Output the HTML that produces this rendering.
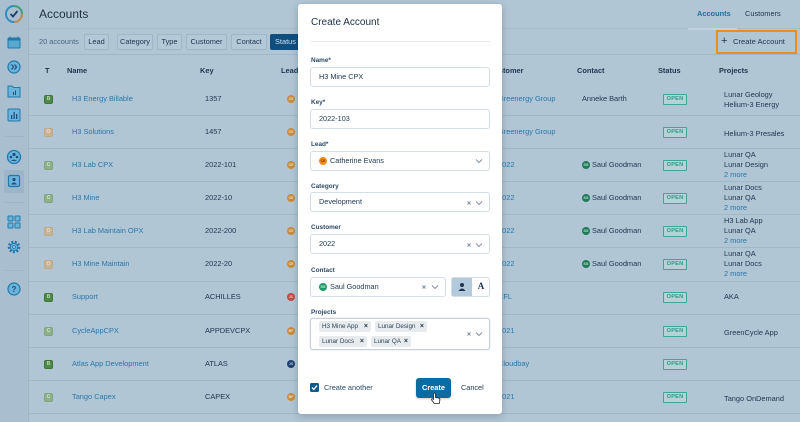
<!DOCTYPE html>
<html><head><meta charset="utf-8">
<style>
*{margin:0;padding:0;box-sizing:border-box}
html,body{width:800px;height:422px;overflow:hidden}
body{background:#b1c6d5;font-family:"Liberation Sans",Arial,sans-serif;position:relative;color:#1d3550}
.a{position:absolute;white-space:nowrap}
.t{position:absolute;white-space:nowrap;line-height:10px;font-size:7.4px}
.hl{position:absolute;height:1px;background:#a0b9ca}
.fb{position:absolute;top:34px;height:16px;border:1px solid #9db6c8;border-radius:2px;font-size:7.4px;line-height:14px;text-align:center;color:#1d3550;background:#b4c9d7}
.bold{font-weight:bold}
.lnk{color:#2a76a8}
.badge{position:absolute;left:44px;width:9px;height:9px;border-radius:2px;font-size:5px;line-height:9px;text-align:center;font-weight:bold}
.bB{background:#4e8a47;color:#b9d6b1;border:1px solid #3f7539;line-height:7px}
.bO{background:#c8b394;color:#e8decd;border:1px solid #bfa886;line-height:7px}
.bC{background:#8db18a;color:#d2e4cf;border:1px solid #80a57d;line-height:7px}
.av{position:absolute;width:8px;height:8px;border-radius:50%;font-size:3.5px;line-height:8px;text-align:center;color:#f0e0c0;font-weight:bold}
.open{position:absolute;left:663px;width:24px;height:11px;border:1px solid #3fa597;border-radius:1px;background:#b6d2d6;color:#2a9a87;font-size:5.6px;font-weight:bold;line-height:9px;text-align:center;letter-spacing:.2px}
.lbl{position:absolute;left:311px;font-size:6.4px;font-weight:bold;color:#2c4a66;line-height:8px}
.inp{position:absolute;left:310px;width:180px;height:20px;border:1px solid #d5dde5;border-radius:3px;background:#fff}
.it{position:absolute;font-size:7.3px;line-height:10px;color:#1d3550;white-space:nowrap}
.tag{position:absolute;height:11px;background:#e7ebee;border-radius:2px;font-size:6.3px;line-height:11px;color:#2c4358;padding-left:3px;white-space:nowrap}
.tag b{position:absolute;right:3px;top:0;font-size:7px;color:#1d3550}
</style></head><body>

<!-- sidebar -->
<div class="a" style="left:0;top:0;width:29px;height:422px;background:#a9bfcf;border-right:1px solid #9fb6c7"></div>
<div class="a" style="left:4px;top:136px;width:20px;height:1px;background:#9fb6c7"></div>
<div class="a" style="left:4px;top:202px;width:20px;height:1px;background:#9fb6c7"></div>
<div class="a" style="left:4px;top:270px;width:20px;height:1px;background:#9fb6c7"></div>
<div class="a" style="left:4px;top:170px;width:20px;height:23px;background:#9db5c8;border-radius:2px"></div>
<svg class="a" style="left:0;top:0" width="29" height="300" viewBox="0 0 29 300">
 <!-- logo -->
 <circle cx="14" cy="14" r="8" fill="none" stroke="#2b8fc0" stroke-width="2"/>
 <path d="M14 6 A8 8 0 0 1 22 14" fill="none" stroke="#4aa07a" stroke-width="2"/>
 <path d="M22 14 A8 8 0 0 1 14 22" fill="none" stroke="#c88c4a" stroke-width="2"/>
 <polyline points="10.5,14 13,16.5 17.5,11" fill="none" stroke="#1d3f6a" stroke-width="1.8"/>
 <!-- calendar -->
 <rect x="8" y="38" width="12" height="10" rx="1" fill="#5aa8d2" stroke="#1f79ad" stroke-width="1"/>
 <rect x="8" y="38" width="12" height="2.5" fill="#1f79ad"/>
 <line x1="10" y1="36.5" x2="10" y2="39" stroke="#1f79ad"/><line x1="18" y1="36.5" x2="18" y2="39" stroke="#1f79ad"/>
 <!-- chevrons -->
 <circle cx="14" cy="67" r="6" fill="#6cb3d9" stroke="#1f79ad" stroke-width="1.2"/>
 <polyline points="11.5,64.5 13.5,67 11.5,69.5" fill="none" stroke="#1d4f80" stroke-width="1.2"/>
 <polyline points="14.5,64.5 16.5,67 14.5,69.5" fill="none" stroke="#1d4f80" stroke-width="1.2"/>
 <!-- folder -->
 <path d="M8 86 h4 l1.5 1.5 h6.5 v9.5 h-12 z" fill="#6cb3d9" stroke="#1f79ad" stroke-width="1"/>
 <rect x="13" y="92" width="1" height="3" fill="#1d4f80"/><rect x="15" y="90.5" width="1" height="4.5" fill="#1d4f80"/>
 <!-- chart -->
 <rect x="8" y="109" width="12" height="12" rx="1" fill="#6cb3d9" stroke="#1f79ad" stroke-width="1"/>
 <rect x="11" y="115" width="1.3" height="4" fill="#1d4f80"/><rect x="13.5" y="112" width="1.3" height="7" fill="#1d4f80"/><rect x="16" y="114" width="1.3" height="5" fill="#1d4f80"/>
 <!-- users -->
 <circle cx="14" cy="157" r="6.5" fill="#6cb3d9" stroke="#1f79ad" stroke-width="1.3"/>
 <circle cx="14" cy="154.5" r="1.6" fill="#1d4f80"/><circle cx="11" cy="157" r="1.3" fill="#1d4f80"/><circle cx="17" cy="157" r="1.3" fill="#1d4f80"/>
 <path d="M11 161 q3 -3 6 0" fill="#1d4f80"/>
 <!-- contact -->
 <rect x="8.5" y="175.5" width="11" height="11" rx="1.5" fill="#6cb3d9" stroke="#1f79ad" stroke-width="1.2"/>
 <circle cx="14" cy="179.5" r="1.6" fill="#1d4f80"/><path d="M11 184.5 q3 -4 6 0 z" fill="#1d4f80"/>
 <!-- grid -->
 <rect x="8" y="216" width="5" height="5" rx=".5" fill="#6cb3d9" stroke="#1f79ad" stroke-width="1"/>
 <rect x="15" y="216" width="5" height="5" rx=".5" fill="#6cb3d9" stroke="#1f79ad" stroke-width="1"/>
 <rect x="8" y="223" width="5" height="5" rx=".5" fill="#6cb3d9" stroke="#1f79ad" stroke-width="1"/>
 <rect x="15" y="223" width="5" height="5" rx=".5" fill="#6cb3d9" stroke="#1f79ad" stroke-width="1"/>
 <!-- gear -->
 <circle cx="14" cy="247" r="5.2" fill="none" stroke="#1f79ad" stroke-width="2.2" stroke-dasharray="2 1.6"/>
 <circle cx="14" cy="247" r="3.8" fill="#6cb3d9" stroke="#1f79ad" stroke-width="1"/>
 <circle cx="14" cy="247" r="1.5" fill="#a9bfcf" stroke="#1f79ad" stroke-width=".8"/>
</svg>
<svg class="a" style="left:0;top:280" width="29" height="20" viewBox="0 280 29 20">
 <circle cx="14" cy="289" r="6" fill="#6cb3d9" stroke="#1f79ad" stroke-width="1.2"/>
 <text x="14" y="292" font-size="8" text-anchor="middle" fill="#1d4f80" font-family="Liberation Sans" font-weight="bold">?</text>
</svg>

<!-- header -->
<div class="a" style="left:39px;top:7px;font-size:12px;line-height:14px;color:#1d3045">Accounts</div>
<div class="t bold" style="left:697px;top:9px;color:#1b6fa3">Accounts</div>
<div class="t" style="left:745px;top:9px">Customers</div>
<div class="hl" style="left:29px;top:28px;width:771px;background:#a5bccc"></div>
<div class="a" style="left:688px;top:28px;width:49px;height:2px;background:#c1d3df"></div>

<div class="t" style="left:39px;top:37px;color:#4a6680">20 accounts</div>
<div class="fb" style="left:84px;width:25px">Lead</div>
<div class="fb" style="left:117px;width:36px">Category</div>
<div class="fb" style="left:157px;width:25px">Type</div>
<div class="fb" style="left:186px;width:41px">Customer</div>
<div class="fb" style="left:231px;width:36px">Contact</div>
<div class="fb" style="left:270px;width:36px;background:#0e4f80;border-color:#0e4f80;color:#cfe0ee;text-align:left;padding-left:4px">Status</div>

<div class="a" style="left:716px;top:30px;width:81px;height:24px;border:2px solid #f08c1a"></div>
<div class="a" style="left:721px;top:36px;font-size:11px;line-height:11px;color:#1d3550">+</div>
<div class="t" style="left:733px;top:37px;font-size:7.6px">Create Account</div>

<div class="hl" style="left:29px;top:54px;width:771px"></div>

<!-- table header -->
<div class="t bold" style="left:45px;top:66px">T</div>
<div class="t bold" style="left:67px;top:66px">Name</div>
<div class="t bold" style="left:200px;top:66px">Key</div>
<div class="t bold" style="left:281px;top:66px">Lead</div>
<div class="t bold" style="left:489px;top:66px">Customer</div>
<div class="t bold" style="left:577px;top:66px">Contact</div>
<div class="t bold" style="left:658px;top:66px">Status</div>
<div class="t bold" style="left:719px;top:66px">Projects</div>

<!-- row separators -->
<div class="hl" style="left:29px;top:115px;width:771px"></div>
<div class="hl" style="left:29px;top:148px;width:771px"></div>
<div class="hl" style="left:29px;top:181px;width:771px"></div>
<div class="hl" style="left:29px;top:214px;width:771px"></div>
<div class="hl" style="left:29px;top:247px;width:771px"></div>
<div class="hl" style="left:29px;top:281px;width:771px"></div>
<div class="hl" style="left:29px;top:314px;width:771px"></div>
<div class="hl" style="left:29px;top:347px;width:771px"></div>
<div class="hl" style="left:29px;top:380px;width:771px"></div>
<div class="hl" style="left:29px;top:413px;width:771px"></div>

<!-- row 1 -->
<div class="badge bB" style="top:95px">B</div>
<div class="t lnk" style="left:72px;top:94px">H3 Energy Billable</div>
<div class="t" style="left:205px;top:94px">1357</div>
<div class="av" style="left:287px;top:95px;background:#c88c3c">CE</div>
<div class="t lnk" style="left:498px;top:94px">Greenergy Group</div>
<div class="t" style="left:582px;top:94px">Anneke Barth</div>
<div class="open" style="top:94px">OPEN</div>
<div class="t" style="left:724px;top:90px">Lunar Geology</div>
<div class="t" style="left:724px;top:100px">Helium-3 Energy</div>

<!-- row 2 -->
<div class="badge bO" style="top:128px">O</div>
<div class="t lnk" style="left:72px;top:127px">H3 Solutions</div>
<div class="t" style="left:205px;top:127px">1457</div>
<div class="av" style="left:287px;top:128px;background:#c88c3c">CE</div>
<div class="t lnk" style="left:498px;top:127px">Greenergy Group</div>
<div class="open" style="top:127px">OPEN</div>
<div class="t" style="left:724px;top:129px">Helium-3 Presales</div>

<!-- row 3 -->
<div class="badge bC" style="top:161px">C</div>
<div class="t lnk" style="left:72px;top:160px">H3 Lab CPX</div>
<div class="t" style="left:205px;top:160px">2022-101</div>
<div class="av" style="left:287px;top:161px;background:#c88c3c">CE</div>
<div class="t lnk" style="left:498px;top:160px">2022</div>
<div class="av" style="left:582px;top:161px;background:#1e7a5a;color:#bfe0d0">SG</div>
<div class="t" style="left:592px;top:160px">Saul Goodman</div>
<div class="open" style="top:160px">OPEN</div>
<div class="t" style="left:724px;top:150px">Lunar QA</div>
<div class="t" style="left:724px;top:160px">Lunar Design</div>
<div class="t lnk" style="left:724px;top:170px">2 more</div>

<!-- row 4 -->
<div class="badge bC" style="top:194px">C</div>
<div class="t lnk" style="left:72px;top:193px">H3 Mine</div>
<div class="t" style="left:205px;top:193px">2022-10</div>
<div class="av" style="left:287px;top:194px;background:#c88c3c">CE</div>
<div class="t lnk" style="left:498px;top:193px">2022</div>
<div class="av" style="left:582px;top:194px;background:#1e7a5a;color:#bfe0d0">SG</div>
<div class="t" style="left:592px;top:193px">Saul Goodman</div>
<div class="open" style="top:193px">OPEN</div>
<div class="t" style="left:724px;top:183px">Lunar Docs</div>
<div class="t" style="left:724px;top:193px">Lunar QA</div>
<div class="t lnk" style="left:724px;top:203px">2 more</div>

<!-- row 5 -->
<div class="badge bO" style="top:227px">O</div>
<div class="t lnk" style="left:72px;top:226px">H3 Lab Maintain OPX</div>
<div class="t" style="left:205px;top:226px">2022-200</div>
<div class="av" style="left:287px;top:227px;background:#c88c3c">CE</div>
<div class="t lnk" style="left:498px;top:226px">2022</div>
<div class="av" style="left:582px;top:227px;background:#1e7a5a;color:#bfe0d0">SG</div>
<div class="t" style="left:592px;top:226px">Saul Goodman</div>
<div class="open" style="top:226px">OPEN</div>
<div class="t" style="left:724px;top:216px">H3 Lab App</div>
<div class="t" style="left:724px;top:226px">Lunar QA</div>
<div class="t lnk" style="left:724px;top:236px">2 more</div>

<!-- row 6 -->
<div class="badge bO" style="top:260px">O</div>
<div class="t lnk" style="left:72px;top:259px">H3 Mine Maintain</div>
<div class="t" style="left:205px;top:259px">2022-20</div>
<div class="av" style="left:287px;top:260px;background:#c88c3c">CE</div>
<div class="t lnk" style="left:498px;top:259px">2022</div>
<div class="av" style="left:582px;top:260px;background:#1e7a5a;color:#bfe0d0">SG</div>
<div class="t" style="left:592px;top:259px">Saul Goodman</div>
<div class="open" style="top:259px">OPEN</div>
<div class="t" style="left:724px;top:249px">Lunar QA</div>
<div class="t" style="left:724px;top:259px">Lunar Docs</div>
<div class="t lnk" style="left:724px;top:269px">2 more</div>

<!-- row 7 -->
<div class="badge bB" style="top:293px">B</div>
<div class="t lnk" style="left:72px;top:292px">Support</div>
<div class="t" style="left:205px;top:292px">ACHILLES</div>
<div class="av" style="left:287px;top:293px;background:#c24a45">JC</div>
<div class="t lnk" style="left:498px;top:292px">CFL</div>
<div class="open" style="top:292px">OPEN</div>
<div class="t" style="left:724px;top:292px">AKA</div>

<!-- row 8 -->
<div class="badge bC" style="top:327px">C</div>
<div class="t lnk" style="left:72px;top:326px">CycleAppCPX</div>
<div class="t" style="left:205px;top:326px">APPDEVCPX</div>
<div class="av" style="left:287px;top:327px;background:#c88c3c">BF</div>
<div class="t lnk" style="left:498px;top:326px">2021</div>
<div class="open" style="top:326px">OPEN</div>
<div class="t" style="left:724px;top:328px">GreenCycle App</div>

<!-- row 9 -->
<div class="badge bB" style="top:360px">B</div>
<div class="t lnk" style="left:72px;top:359px">Atlas App Development</div>
<div class="t" style="left:205px;top:359px">ATLAS</div>
<div class="av" style="left:287px;top:360px;background:#1f3f6e;color:#b8c8e0">JS</div>
<div class="t lnk" style="left:498px;top:359px">Cloudbay</div>
<div class="open" style="top:359px">OPEN</div>

<!-- row 10 -->
<div class="badge bC" style="top:393px">C</div>
<div class="t lnk" style="left:72px;top:392px">Tango Capex</div>
<div class="t" style="left:205px;top:392px">CAPEX</div>
<div class="av" style="left:287px;top:393px;background:#c88c3c">BF</div>
<div class="t lnk" style="left:498px;top:392px">2021</div>
<div class="open" style="top:392px">OPEN</div>
<div class="t" style="left:724px;top:394px">Tango OnDemand</div>

<!-- modal -->
<div class="a" style="left:298px;top:4px;width:204px;height:410px;background:#fff;border-radius:3px;box-shadow:0 2px 8px rgba(20,40,60,.25)"></div>
<div class="a" style="left:311px;top:17px;font-size:10px;line-height:12px;color:#1d2f45">Create Account</div>
<div class="a" style="left:311px;top:41px;width:179px;height:1px;background:#e6ebf0"></div>

<div class="lbl" style="top:57px">Name*</div>
<div class="inp" style="top:67px"></div>
<div class="it" style="left:319px;top:72px">H3 Mine CPX</div>

<div class="lbl" style="top:99px">Key*</div>
<div class="inp" style="top:109px"></div>
<div class="it" style="left:319px;top:114px">2022-103</div>

<div class="lbl" style="top:141px">Lead*</div>
<div class="inp" style="top:151px"></div>
<div class="av" style="left:319px;top:157px;background:#f08c1a;color:#7a3d00">CE</div>
<div class="it" style="left:330px;top:156px">Catherine Evans</div>

<div class="lbl" style="top:183px">Category</div>
<div class="inp" style="top:192px"></div>
<div class="it" style="left:319px;top:197px">Development</div>

<div class="lbl" style="top:224px">Customer</div>
<div class="inp" style="top:234px"></div>
<div class="it" style="left:319px;top:239px">2022</div>

<div class="lbl" style="top:267px">Contact</div>
<div class="inp" style="top:277px;width:136px"></div>
<div class="av" style="left:319px;top:283px;background:#1e9a6a;color:#d0f0e0">SG</div>
<div class="it" style="left:330px;top:282px">Saul Goodman</div>
<div class="a" style="left:451px;top:277px;width:39px;height:20px;border:1px solid #d5dde5;border-radius:3px;background:#fff"></div>
<div class="a" style="left:452px;top:278px;width:20px;height:18px;background:#b2cadc"></div>
<svg class="a" style="left:452px;top:278px" width="20" height="18"><circle cx="10" cy="7" r="2" fill="#1d3550"/><path d="M6.5 13 q3.5 -5 7 0 z" fill="#1d3550"/></svg>
<div class="a" style="left:472px;top:281px;width:18px;text-align:center;font-family:'Liberation Serif',serif;font-size:9px;font-weight:bold;line-height:11px;color:#1d3550">A</div>

<div class="lbl" style="top:309px">Projects</div>
<div class="a" style="left:310px;top:318px;width:180px;height:32px;border:1px solid #c5d0da;border-radius:3px;background:#fff;box-shadow:0 0 1px #aab8c6"></div>
<div class="tag" style="left:319px;top:321px;width:52px">H3 Mine App<b>×</b></div>
<div class="tag" style="left:375px;top:321px;width:52px">Lunar Design<b>×</b></div>
<div class="tag" style="left:319px;top:336px;width:48px">Lunar Docs<b>×</b></div>
<div class="tag" style="left:371px;top:336px;width:40px">Lunar QA<b>×</b></div>

<!-- clear & chevrons -->
<svg class="a" style="left:0;top:0" width="800" height="422" viewBox="0 0 800 422">
 <g fill="none" stroke="#7d8d9c" stroke-width=".9">
  <polyline points="476,159.5 479,162.5 482,159.5"/>
  <polyline points="476,201.5 479,204.5 482,201.5"/>
  <polyline points="476,243.5 479,246.5 482,243.5"/>
  <polyline points="432,285.5 435,288.5 438,285.5"/>
  <polyline points="476,332.5 479,335.5 482,332.5"/>
  <path d="M467.5 201.5 l3 3 M470.5 201.5 l-3 3"/>
  <path d="M467.5 243.5 l3 3 M470.5 243.5 l-3 3"/>
  <path d="M422.5 285.5 l3 3 M425.5 285.5 l-3 3"/>
  <path d="M467.5 332.5 l3 3 M470.5 332.5 l-3 3"/>
 </g>
</svg>

<!-- footer -->
<div class="a" style="left:310px;top:383px;width:9px;height:9px;background:#0e5a8e;border-radius:1.5px"></div>
<svg class="a" style="left:310px;top:383px" width="9" height="9"><polyline points="2,4.6 3.8,6.4 7,2.6" fill="none" stroke="#fff" stroke-width="1.3"/></svg>
<div class="it" style="left:324px;top:383px;color:#2a4a66">Create another</div>
<div class="a" style="left:416px;top:378px;width:35px;height:20px;background:#0b6ca3;border-radius:3px;color:#fff;font-size:7.4px;font-weight:bold;line-height:20px;text-align:center;box-shadow:0 1px 2px rgba(0,0,0,.2)">Create</div>
<div class="it" style="left:461px;top:383px">Cancel</div>
<svg class="a" style="left:430px;top:392px" width="12" height="14" viewBox="0 0 12 14">
 <path d="M3.5 1.5 q1 -1 2 0 v4 l3 .5 q1.5 .4 1.4 1.8 l-.6 3.7 h-5 l-2.6 -3.5 q-.4 -1 .6 -1.3 l1.2 .8 z" fill="#fff" stroke="#222" stroke-width=".8"/>
</svg>
</body></html>
